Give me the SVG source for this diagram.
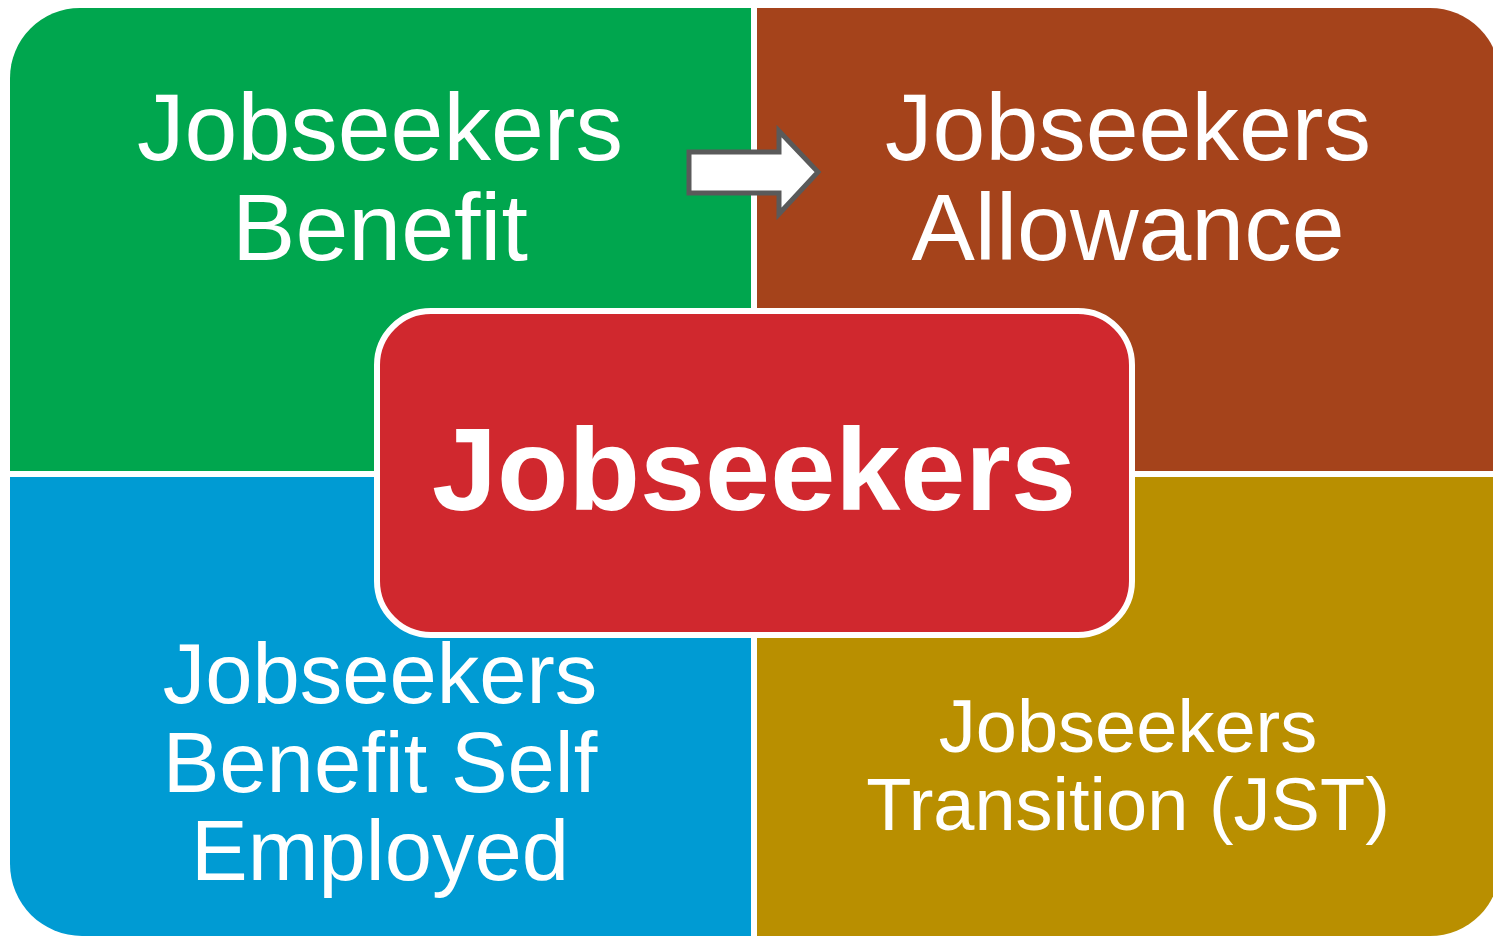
<svg xmlns="http://www.w3.org/2000/svg" width="1493" height="936" viewBox="0 0 1493 936">
<style>
text{font-family:"Liberation Sans",Arial,sans-serif;fill:#fff;text-anchor:middle}
.q{font-size:95px}
</style>
<rect width="1493" height="936" fill="#fff"/>
<g id="benefit">
<path d="M10 78 A70 70 0 0 1 80 8 H751 V471 H10 Z" fill="#00A64E"/>
<text class="q" x="380" y="160">Jobseekers</text>
<text class="q" x="380" y="260">Benefit</text>
</g>
<g id="allowance">
<path d="M757 8 H1430 A70 70 0 0 1 1500 78 V471 H757 Z" fill="#A5431B"/>
<text class="q" x="1128" y="160">Jobseekers</text>
<text class="q" x="1128" y="260">Allowance</text>
</g>
<g id="selfemployed">
<path d="M10 477 H751 V936 H82 A72 72 0 0 1 10 864 Z" fill="#009BD3"/>
<text x="380" y="703" style="font-size:85px">Jobseekers</text>
<text x="380" y="792" style="font-size:85px">Benefit Self</text>
<text x="380" y="880" style="font-size:85px">Employed</text>
</g>
<g id="transition">
<path d="M757 477 H1500 V866 A70 70 0 0 1 1430 936 H757 Z" fill="#B98F00"/>
<text x="1128" y="752" style="font-size:74px">Jobseekers</text>
<text x="1128" y="830" style="font-size:74px">Transition (JST)</text>
</g>
<g id="center">
<rect x="377" y="311" width="755" height="324" rx="54" fill="#D0282E" stroke="#fff" stroke-width="6"/>
<text x="754" y="510" style="font-size:117px;font-weight:bold">Jobseekers</text>
</g>
<g id="connectors">
<path d="M689 152 H779 V131 L818 172 L779 214 V193 H689 Z" fill="#fff" stroke="#5A5A5A" stroke-width="5" stroke-linejoin="miter"/>
</g>
</svg>
